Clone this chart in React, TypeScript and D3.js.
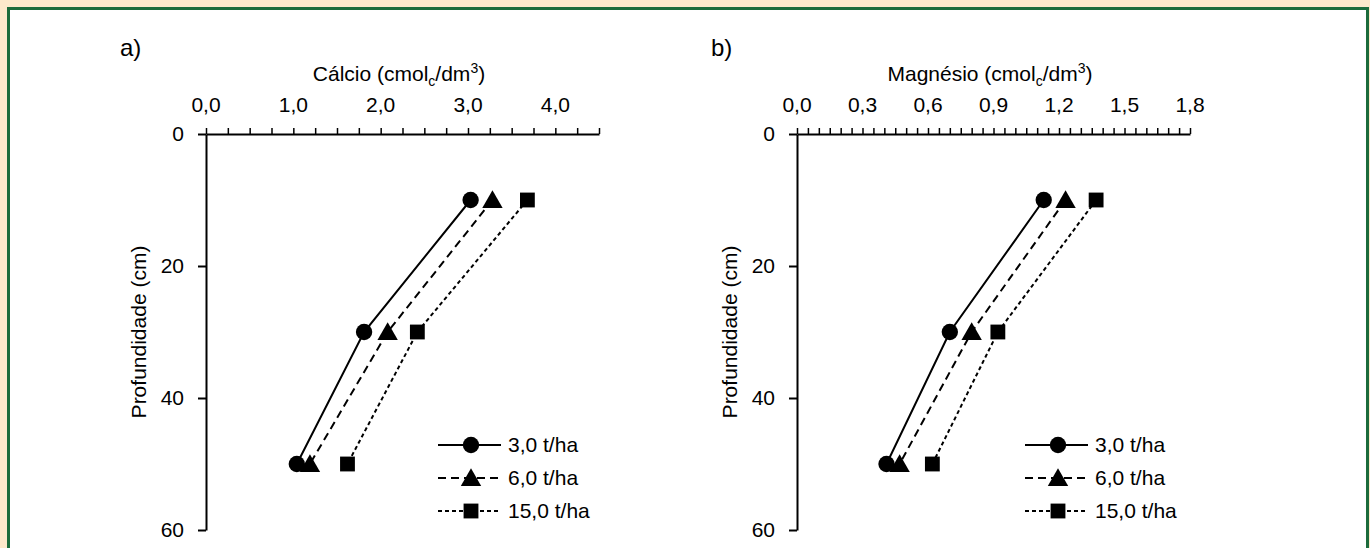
import React, { useRef, useEffect } from 'react';
import * as d3 from 'd3';

// profundidade (cm) das amostras
const depths = [10, 30, 50];
const doses = ['3,0 t/ha', '6,0 t/ha', '15,0 t/ha'];

// Cálcio (cmolc/dm3) por dose
const calcio30 = [3.03, 1.81, 1.04];
const calcio60 = [3.28, 2.08, 1.19];
const calcio150 = [3.68, 2.42, 1.62];

// Magnésio (cmolc/dm3) por dose
const magnesio30 = [1.13, 0.70, 0.41];
const magnesio60 = [1.23, 0.80, 0.47];
const magnesio150 = [1.37, 0.92, 0.62];

const calcioTicks = [0, 1, 2, 3, 4];
const magnesioTicks = [0, 0.3, 0.6, 0.9, 1.2, 1.5, 1.8];
const depthTicks = [0, 20, 40, 60];

const FONT = '"Liberation Sans", Arial, sans-serif';
const dashes = [null, '8,5', '4,3'];
const symbols = [d3.symbolCircle, d3.symbolTriangle, d3.symbolSquare];
const symSizes = [210, 180, 220];

function App() {
  const ref = useRef<SVGSVGElement>(null);

  useEffect(() => {
    const svg = d3.select(ref.current);
    svg.selectAll('*').remove();

    // fundo e moldura
    svg.append('rect').attr('width', 1370).attr('height', 548).attr('fill', '#fde9cb');
    svg.append('rect')
      .attr('x', 8.5).attr('y', 8.5).attr('width', 1359).attr('height', 560)
      .attr('fill', '#ffffff').attr('stroke', '#1c6b3b').attr('stroke-width', 3);

    const label = (g, x, y, str, size, anchor = 'start') =>
      g.append('text')
        .attr('x', x).attr('y', y)
        .attr('text-anchor', anchor).attr('font-size', size)
        .attr('font-family', FONT).attr('fill', '#000')
        .text(str);

    const panels = [
      {
        letter: 'a)', name: 'Cálcio', x0: 206, max: 4.5, minor: 0.25,
        ticks: calcioTicks, series: [calcio30, calcio60, calcio150], legX: 438,
      },
      {
        letter: 'b)', name: 'Magnésio', x0: 797, max: 1.8, minor: 0.05,
        ticks: magnesioTicks, series: [magnesio30, magnesio60, magnesio150], legX: 1025,
      },
    ];

    panels.forEach(p => {
      const x = d3.scaleLinear().domain([0, p.max]).range([p.x0, p.x0 + 393]);
      const y = d3.scaleLinear().domain([0, 60]).range([134, 530]);
      const g = svg.append('g');

      label(g, p.x0 - 86, 56, p.letter, 24);

      // título do eixo x
      const t = g.append('text')
        .attr('x', p.x0 + 193).attr('y', 81)
        .attr('text-anchor', 'middle').attr('font-size', 21).attr('font-family', FONT);
      t.append('tspan').text(p.name + ' (cmol');
      t.append('tspan').attr('font-size', 14).attr('dy', 5).text('c');
      t.append('tspan').attr('dy', -5).text('/dm');
      t.append('tspan').attr('font-size', 14).attr('dy', -8).text('3');
      t.append('tspan').attr('dy', 8).text(')');

      // eixo x (topo) com marcas secundárias
      const minorTicks = d3.range(0, p.max + p.minor / 2, p.minor);
      const xAxis = g.append('g').attr('transform', 'translate(0,134)')
        .call(d3.axisTop(x).tickValues(minorTicks).tickSize(6).tickSizeOuter(0).tickFormat(() => ''));
      xAxis.select('.domain').attr('stroke-width', 2);
      xAxis.selectAll('.tick line').attr('stroke-width', 1.5);

      p.ticks.forEach(v => label(g, x(v), 112, d3.format('.1f')(v).replace('.', ','), 21, 'middle'));

      // eixo y
      const yAxis = g.append('g').attr('transform', `translate(${p.x0},0)`)
        .call(d3.axisLeft(y).tickValues(depthTicks).tickSize(8).tickSizeOuter(0).tickFormat(() => ''));
      yAxis.select('.domain').attr('stroke-width', 2);
      yAxis.selectAll('.tick line').attr('stroke-width', 2);
      depthTicks.forEach(v => label(g, p.x0 - 22, y(v) + 7, String(v), 21, 'end'));

      g.append('text')
        .attr('transform', `translate(${p.x0 - 60},${y(30)}) rotate(-90)`)
        .attr('text-anchor', 'middle').attr('font-size', 21).attr('font-family', FONT)
        .text('Profundidade (cm)');

      // séries
      const line = d3.line<number>().x(d => x(d)).y((d, i) => y(depths[i]));
      p.series.forEach((vals, s) => {
        g.append('path').datum(vals).attr('d', line)
          .attr('fill', 'none').attr('stroke', '#000').attr('stroke-width', 2)
          .attr('stroke-dasharray', dashes[s]);
        g.selectAll(`.pt${s}`).data(vals).enter().append('path')
          .attr('transform', (d, i) => `translate(${x(d)},${y(depths[i]) + (s === 1 ? 2 : 0)})`)
          .attr('d', d3.symbol().type(symbols[s]).size(symSizes[s])())
          .attr('fill', '#000');
      });

      // legenda
      doses.forEach((name, s) => {
        const ly = 445 + s * 33;
        g.append('line').attr('x1', p.legX).attr('x2', p.legX + 63)
          .attr('y1', ly).attr('y2', ly)
          .attr('stroke', '#000').attr('stroke-width', 2)
          .attr('stroke-dasharray', dashes[s]);
        g.append('path')
          .attr('transform', `translate(${p.legX + 33},${ly + (s === 1 ? 2 : 0)})`)
          .attr('d', d3.symbol().type(symbols[s]).size(symSizes[s])())
          .attr('fill', '#000');
        label(g, p.legX + 70, ly + 7, name, 21);
      });
    });
  }, []);

  return (
    <svg ref={ref} width={1370} height={548}
      style={{ position: 'absolute', left: 0, top: 0, display: 'block' }} />
  );
}

export default App;
